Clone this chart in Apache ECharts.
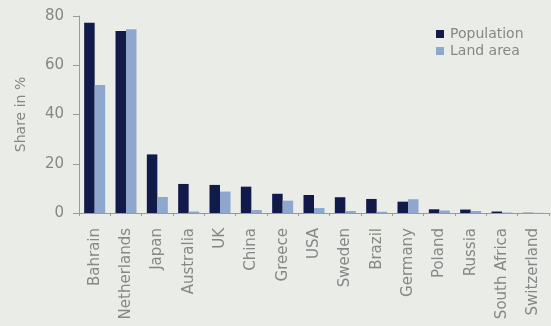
<!DOCTYPE html>
<html>
<head>
<meta charset="utf-8">
<script src="https://cdn.jsdelivr.net/npm/echarts@6/dist/echarts.min.js"></script>
<style>
  html, body { margin: 0; padding: 0; background: #e9ece7; }
  #main { width: 551px; height: 326px; }
</style>
</head>
<body>
<div id="main"></div>
<script>
// 国家
var countries = ['Bahrain', 'Netherlands', 'Japan', 'Australia', 'UK', 'China', 'Greece', 'USA',
    'Sweden', 'Brazil', 'Germany', 'Poland', 'Russia', 'South Africa', 'Switzerland'];
// 人口占比
var population = [77.3, 73.9, 23.8, 11.8, 11.4, 10.7, 7.8, 7.3, 6.4, 5.7, 4.6, 1.5, 1.4, 0.6, 0.1];
// 面积占比
var landArea = [52.0, 74.6, 6.5, 0.6, 8.7, 1.2, 5.0, 2.0, 0.8, 0.5, 5.6, 1.0, 0.8, 0.2, 0.05];
var yTicks = [0, 20, 40, 60, 80];

var myChart = echarts.init(document.getElementById('main'));
var grey = '#878787';
var option = {
    backgroundColor: '#e9ece7',
    textStyle: { fontFamily: '"DejaVu Sans", sans-serif' },
    legend: {
        orient: 'vertical',
        left: 431,
        top: 22,
        itemWidth: 8,
        itemHeight: 8,
        itemGap: 3,
        icon: 'rect',
        textStyle: { color: grey, fontSize: 14, padding: [0, 0, 0, 1] },
        data: ['Population', 'Land area']
    },
    grid: { left: 79, right: 2, top: 16, bottom: 113 },
    xAxis: {
        type: 'category',
        data: countries,
        axisLine: { lineStyle: { color: '#9a9a9a' } },
        axisTick: { show: true, length: 3, lineStyle: { color: '#9a9a9a' } },
        axisLabel: { rotate: 90, color: grey, fontSize: 15, margin: 15, interval: 0 }
    },
    yAxis: {
        type: 'value',
        min: yTicks[0],
        max: yTicks[yTicks.length - 1],
        interval: 20,
        name: 'Share in %',
        nameLocation: 'middle',
        nameGap: 51,
        nameTextStyle: { color: grey, fontSize: 14 },
        axisLine: { show: true, lineStyle: { color: '#9a9a9a' } },
        axisTick: { show: true, length: 6, lineStyle: { color: '#9a9a9a' } },
        axisLabel: { color: grey, fontSize: 15, margin: 15 },
        splitLine: { show: false }
    },
    series: [
        {
            name: 'Population',
            type: 'bar',
            barWidth: 10.5,
            barGap: '0%',
            itemStyle: { color: '#111a48' },
            data: population
        },
        {
            name: 'Land area',
            type: 'bar',
            barWidth: 10.5,
            itemStyle: { color: '#8fa7cd' },
            data: landArea
        }
    ]
};
myChart.setOption(option);
</script>
</body>
</html>
